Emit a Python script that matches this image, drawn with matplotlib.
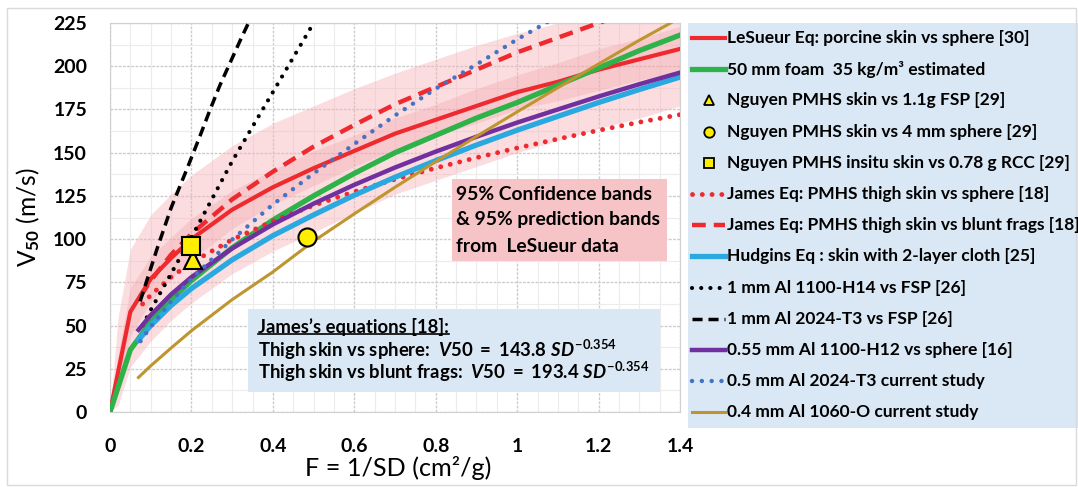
import numpy as np
import matplotlib.pyplot as plt
from matplotlib.patches import Rectangle
from matplotlib.lines import Line2D

FONT = "Lato"
plt.rcParams["font.family"] = [FONT, "DejaVu Sans"]
plt.rcParams["font.weight"] = "bold"
plt.rcParams["mathtext.fontset"] = "custom"
plt.rcParams["mathtext.rm"] = FONT + ":bold"
plt.rcParams["mathtext.it"] = FONT + ":bold:italic"
plt.rcParams["mathtext.bf"] = FONT + ":bold"

# ---- data (F = 1/SD in cm2/g, V50 in m/s) ----
F_les = [0, 0.05, 0.1, 0.15, 0.2, 0.3, 0.4, 0.5, 0.6, 0.7, 0.8, 0.9, 1.0, 1.1, 1.2, 1.3, 1.4]
V_les = [0, 58, 77, 89, 100, 117, 130, 141, 151, 161, 169, 177, 185, 191, 198, 204, 210]

F_foam = [0, 0.05, 0.1, 0.15, 0.2, 0.3, 0.4, 0.5, 0.6, 0.7, 0.8, 0.9, 1.0, 1.1, 1.2, 1.3, 1.4]
V_foam = [0, 36, 52, 65, 76, 95, 111, 125, 138, 150, 160, 170, 179, 189, 199, 209, 218]

F_band = [0, 0.02, 0.05, 0.1, 0.15, 0.2, 0.3, 0.4, 0.5, 0.6, 0.7, 0.8, 0.9, 1.0, 1.1, 1.2, 1.3, 1.4]
pred_hi = [0, 55, 94, 114, 126, 137, 154, 167, 177, 187, 196, 204, 212, 219, 225, 232, 238, 244]
pred_lo = [0, 4, 26, 41, 53, 63, 80, 93, 104, 115, 126, 134, 142, 150, 157, 164, 170, 177]
conf_hi = [0, 33, 72, 90, 101, 112, 128, 140, 151, 160, 170, 178, 187, 195, 202, 210, 216, 223]
conf_lo = [0, 13, 44, 64, 77, 88, 106, 120, 131, 142, 152, 160, 167, 175, 180, 186, 192, 197]

F_tri, V_tri = [0.205], [88]
F_circ, V_circ = [0.485], [101]
F_sq, V_sq = [0.2], [96]

F_jsph = [0.08, 0.1, 0.15, 0.2, 0.3, 0.4, 0.5, 0.6, 0.7, 0.8, 0.9, 1.0, 1.1, 1.2, 1.3, 1.4]
V_jsph = [62.5, 67.6, 78, 86.4, 99.7, 110.4, 119.5, 127.4, 134.6, 141.1, 147.1, 152.7, 157.9, 162.9, 167.6, 172]

F_jblu = [0.075, 0.1, 0.15, 0.2, 0.3, 0.4, 0.5, 0.6, 0.7, 0.8, 0.9, 1.0, 1.1, 1.2, 1.3]
V_jblu = [67, 76, 91, 103, 123, 139, 153.5, 166, 178, 188, 198, 208, 216.5, 225, 233]

F_hud = [0.07, 0.1, 0.15, 0.2, 0.3, 0.4, 0.5, 0.6, 0.7, 0.8, 0.9, 1.0, 1.1, 1.2, 1.3, 1.4]
V_hud = [41.7, 50, 61.6, 71.4, 88, 102, 114, 125.4, 135.8, 145.4, 154.4, 163, 171, 179, 186.5, 193.7]

F_h14 = [0.08, 0.1, 0.15, 0.2, 0.25, 0.3, 0.35, 0.4, 0.45, 0.5, 0.52]
V_h14 = [50, 59, 80, 101, 123, 145, 165, 185, 205, 225, 233]

F_t3 = [0.074, 0.1, 0.115, 0.15, 0.188, 0.22, 0.246, 0.27, 0.295, 0.32, 0.34, 0.36]
V_t3 = [64, 83, 94, 118, 140, 159, 175, 189, 202, 215, 225, 234]

F_h12 = [0.07, 0.1, 0.15, 0.2, 0.3, 0.4, 0.5, 0.6, 0.7, 0.8, 0.9, 1.0, 1.1, 1.2, 1.3, 1.4]
V_h12 = [47.5, 56, 68, 78, 94.6, 108.5, 120.5, 131.4, 141.4, 150.6, 159.2, 167.4, 175, 182.5, 189.6, 196.3]

F_cur1 = [0.075, 0.1, 0.15, 0.2, 0.3, 0.4, 0.5, 0.6, 0.7, 0.8, 0.9, 1.0, 1.1]
V_cur1 = [41, 49.4, 64, 77, 99.7, 120, 138, 155, 171.5, 187, 201, 215.5, 229]

F_cur2 = [0.07, 0.1, 0.15, 0.2, 0.3, 0.4, 0.5, 0.6, 0.7, 0.8, 0.9, 1.0, 1.1, 1.2, 1.3, 1.4]
V_cur2 = [20, 26.7, 37, 47, 65, 81, 98.8, 114.6, 130, 144.8, 159.4, 173.6, 187.6, 201.3, 215, 228]

x_ticks = [0, 0.2, 0.4, 0.6, 0.8, 1.0, 1.2, 1.4]
x_labels = ["0", "0.2", "0.4", "0.6", "0.8", "1", "1.2", "1.4"]
y_ticks = list(range(0, 226, 25))

labels = [
    "LeSueur Eq: porcine skin vs sphere [30]",
    "50 mm foam  35 kg/m³ estimated",
    "Nguyen PMHS skin vs 1.1g FSP [29]",
    "Nguyen PMHS skin vs 4 mm sphere [29]",
    "Nguyen PMHS insitu skin vs 0.78 g RCC [29]",
    "James Eq: PMHS thigh skin vs sphere [18]",
    "James Eq: PMHS thigh skin vs blunt frags [18]",
    "Hudgins Eq : skin with 2-layer cloth [25]",
    "1 mm Al 1100-H14 vs FSP [26]",
    "1 mm Al 2024-T3 vs FSP [26]",
    "0.55 mm Al 1100-H12 vs sphere [16]",
    "0.5 mm Al 2024-T3 current study",
    "0.4 mm Al 1060-O current study",
]

red = "#ee2a2f"
yel = "#ffee00"
styles = [
    dict(color=red, lw=3),
    dict(color="#2eb24a", lw=3.8),
    dict(ls="none", marker="^", mfc=yel, mec="black"),
    dict(ls="none", marker="o", mfc=yel, mec="black"),
    dict(ls="none", marker="s", mfc=yel, mec="black"),
    dict(color=red, lw=3.5, ls=(0, (0.01, 2.0)), dash_capstyle="round"),
    dict(color=red, lw=3.2, ls=(0, (3.1, 1.8))),
    dict(color="#2aa8e0", lw=3.8),
    dict(color="black", lw=3, ls=(0, (0.01, 2.2)), dash_capstyle="round"),
    dict(color="black", lw=2.5, ls=(0, (2.9, 1.7))),
    dict(color="#7030a0", lw=3.2),
    dict(color="#4472c4", lw=3.2, ls=(0, (0.01, 2.2)), dash_capstyle="round"),
    dict(color="#bf9530", lw=2.2),
]
series = [(F_les, V_les), (F_foam, V_foam), (F_tri, V_tri), (F_circ, V_circ), (F_sq, V_sq),
          (F_jsph, V_jsph), (F_jblu, V_jblu), (F_hud, V_hud), (F_h14, V_h14), (F_t3, V_t3),
          (F_h12, V_h12), (F_cur1, V_cur1), (F_cur2, V_cur2)]

W, H = 1078, 487
fig = plt.figure(figsize=(W / 100, H / 100), dpi=100)
ax = fig.add_axes([110 / W, 1 - 412 / H, 570 / W, 389 / H])
ax.set_xlim(0, 1.4)
ax.set_ylim(0, 225)
ax.set_axisbelow(True)
ax.set_xticks(x_ticks)
ax.set_xticklabels(x_labels)
ax.set_yticks(y_ticks)
ax.set_xticks(np.arange(0, 1.41, 0.05), minor=True)
ax.set_yticks(np.arange(0, 226, 12.5), minor=True)
ax.grid(which="major", color="#cccccc", lw=1.0, ls=(0, (2, 1)))
ax.grid(which="minor", color="#ececec", lw=0.8)
ax.tick_params(which="both", length=0)
ax.tick_params(axis="y", pad=16.5)
ax.tick_params(axis="x", pad=19)
for s in ax.spines.values():
    s.set_color("#d0d0d0")
    s.set_linewidth(0.8)

# bands
ax.fill_between(F_band, pred_lo, pred_hi, color="#f7b3ba", alpha=0.45, lw=0, zorder=1)
ax.fill_between(F_band, conf_lo, conf_hi, color="#f19aa3", alpha=0.3, lw=0, zorder=1)

for (fx, vy), st in zip(series, styles):
    if st.get("marker"):
        ax.plot(fx, vy, ms=13, mew=1.5, zorder=5, **st)
    else:
        ax.plot(fx, vy, zorder=3, **st)

ylab = ax.set_ylabel(r"V$_{\mathrm{50}}$ (m/s)", fontsize=16)
xlab = ax.set_xlabel("F = 1/SD (cm²/g)", fontsize=16)
ax.yaxis.set_label_coords(-0.119, 0.5)
ax.xaxis.set_label_coords(0.506, -0.112)

# text boxes
ax.add_patch(Rectangle((0.839, 87.4), 0.528, 47.4, facecolor="#f6c4c7", edgecolor="none", zorder=6))
box_txt = [ax.text(0.850, v, txt, fontsize=12, va="center", ha="left", zorder=7)
           for txt, v in [("95% Confidence bands", 125.6), ("& 95% prediction bands", 111.1),
                          ("from  LeSueur data", 95.7)]]

ax.add_patch(Rectangle((0.339, 11.6), 1.012, 48.0, facecolor="#dae7f4", edgecolor="none", zorder=6))
james_txt = [
    ax.text(0.364, 49.4, "James\u2019s equations [18]:", fontsize=12, va="center", ha="left", zorder=7),
    ax.text(0.364, 35.9, "Thigh skin vs sphere:  $\\mathit{V50\\ =\\ 143.8\\ SD^{-0.354}}$",
            fontsize=12, va="center", ha="left", zorder=7),
    ax.text(0.364, 23.3, "Thigh skin vs blunt frags:  $\\mathit{V50\\ =\\ 193.4\\ SD^{-0.354}}$",
            fontsize=12, va="center", ha="left", zorder=7),
]

# legend panel
fig.patches.append(Rectangle((688 / W, 1 - 428 / H), 1 - 688 / W, 405 / H, transform=fig.transFigure,
                             facecolor="#dae7f4", edgecolor="none", zorder=0))
fig.patches.append(Rectangle((7 / W, 2 / H), 1 - 9 / W, 1 - 10 / H, transform=fig.transFigure,
                             facecolor="none", edgecolor="#dadada", lw=1, zorder=0))
leg_txt = []
for i, (lab, st) in enumerate(zip(labels, styles)):
    yy = 1 - (38 + i * 31.2) / H
    if st.get("marker"):
        fig.add_artist(Line2D([708.5 / W], [yy], transform=fig.transFigure, ms=7.5, mew=1.3, **st))
    else:
        fig.add_artist(Line2D([692 / W, 725 / W], [yy, yy], transform=fig.transFigure, **st))
    leg_txt.append(fig.text(727 / W, yy, lab, fontsize=12, va="center", ha="left"))

# scale text groups so their drawn widths match the reference
fig.canvas.draw()


def scale_group(texts, ref, px, use_height=False):
    bb = ref.get_window_extent()
    k = px / (bb.height if use_height else bb.width)
    for t in texts:
        t.set_fontsize(t.get_fontsize() * k)


scale_group(leg_txt, leg_txt[0], 302)
scale_group(box_txt, box_txt[0], 196)
scale_group(james_txt, james_txt[2], 390)
scale_group([xlab], xlab, 187)
scale_group([ylab], ylab, 100, use_height=True)
tick0 = ax.get_yticklabels()[-1]
k_tick = 34 / tick0.get_window_extent().width
ax.tick_params(axis="both", labelsize=tick0.get_fontsize() * k_tick)

# underline the James box heading
fig.canvas.draw()
bb = james_txt[0].get_window_extent()
inv = fig.transFigure.inverted()
(x0, y0), (x1, _) = inv.transform([(bb.x0, bb.y0 + 2), (bb.x1, bb.y0)])
fig.add_artist(Line2D([x0, x1], [y0, y0], transform=fig.transFigure, color="black", lw=1.2, zorder=8))

fig.savefig("out.png", dpi=100)
